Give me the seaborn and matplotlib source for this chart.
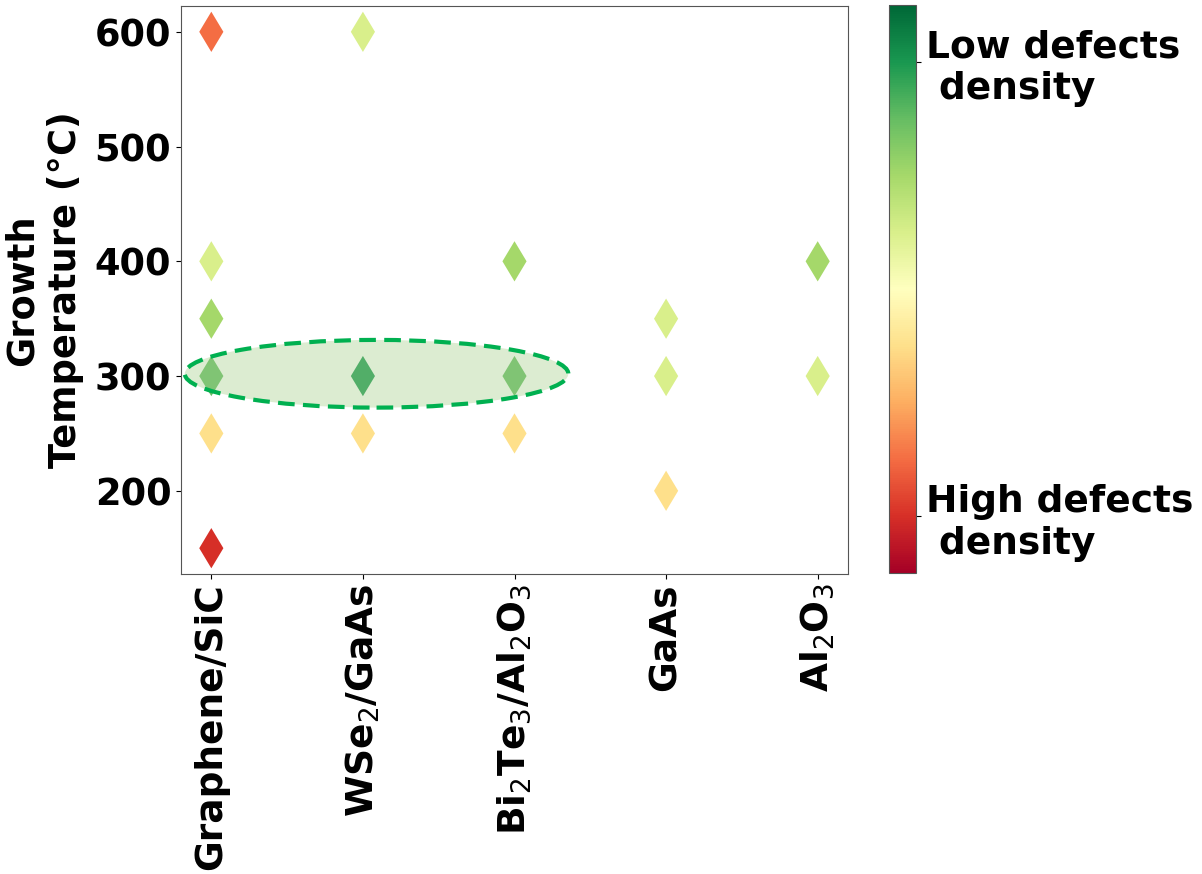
import numpy as np
import pandas as pd
import matplotlib
matplotlib.use("Agg")
import matplotlib.pyplot as plt
import seaborn as sns
from matplotlib.patches import Ellipse
from matplotlib.cm import ScalarMappable
from matplotlib.colors import Normalize

# ---- data ----
categories = ["Graphene/SiC", "WSe2/GaAs", "Bi2Te3/Al2O3", "GaAs", "Al2O3"]
tick_labels = ["Graphene/SiC", r"WSe$_2$/GaAs", r"Bi$_2$Te$_3$/Al$_2$O$_3$", "GaAs", r"Al$_2$O$_3$"]

graphene_temp = [600, 400, 350, 300, 250, 150]
graphene_qual = [0.2, 0.6, 0.7, 0.8, 0.4, 0.1]
wse2_temp = [600, 300, 250]
wse2_qual = [0.6, 0.9, 0.4]
bi2te3_temp = [400, 300, 250]
bi2te3_qual = [0.7, 0.8, 0.4]
gaas_temp = [350, 300, 200]
gaas_qual = [0.6, 0.6, 0.4]
al2o3_temp = [400, 300]
al2o3_qual = [0.7, 0.6]

cbar_ticks = [0.1, 0.9]
cbar_labels = ["High defects\n density", "Low defects\n density"]

temps = [graphene_temp, wse2_temp, bi2te3_temp, gaas_temp, al2o3_temp]
quals = [graphene_qual, wse2_qual, bi2te3_qual, gaas_qual, al2o3_qual]
rows = []
for i, (t, q) in enumerate(zip(temps, quals)):
    for tt, qq in zip(t, q):
        rows.append({"pos": i, "temp": tt, "quality": qq})
df = pd.DataFrame(rows)

# ---- plot ----
fig = plt.figure(figsize=(12.02, 8.74), dpi=100)
ax = fig.add_axes([181/1202, 1 - 574/874, (848-181)/1202, (574-6)/874])

sns.scatterplot(data=df, x="pos", y="temp", hue="quality", palette="RdYlGn",
                hue_norm=(0, 1), marker="d", s=420, linewidth=0, legend=False,
                ax=ax, zorder=2)

ell = Ellipse((1.09, 302), 2.53, 59, facecolor=(169/255, 209/255, 142/255, 0.4),
              edgecolor="#00b050", linestyle=(0, (4, 2)), linewidth=3, zorder=3)
ax.add_patch(ell)

ax.set_xlim(-0.2, 4.2)
ax.set_ylim(127.5, 622.5)
ax.set_xticks(range(len(categories)))
ax.set_xticklabels(tick_labels, rotation=90, fontsize=27, fontweight="bold")
ax.set_yticks([200, 300, 400, 500, 600])
ax.tick_params(axis="y", labelsize=26.5)
for lab in ax.get_yticklabels():
    lab.set_fontweight("bold")
ax.set_xlabel("")
ax.set_ylabel("Growth\nTemperature (°C)", fontsize=26.5, fontweight="bold", labelpad=8)
for sp in ax.spines.values():
    sp.set_color("#555555")

cax = fig.add_axes([889/1202, 1 - 573/874, 27/1202, 568/874])
sm = ScalarMappable(norm=Normalize(0, 1), cmap="RdYlGn")
cb = fig.colorbar(sm, cax=cax)
cb.set_ticks(cbar_ticks)
cb.set_ticklabels(cbar_labels)
for lab in cax.get_yticklabels():
    lab.set_fontsize(27)
    lab.set_fontweight("bold")
cb.outline.set_edgecolor("#555555")

fig.savefig("out.png", dpi=100)
